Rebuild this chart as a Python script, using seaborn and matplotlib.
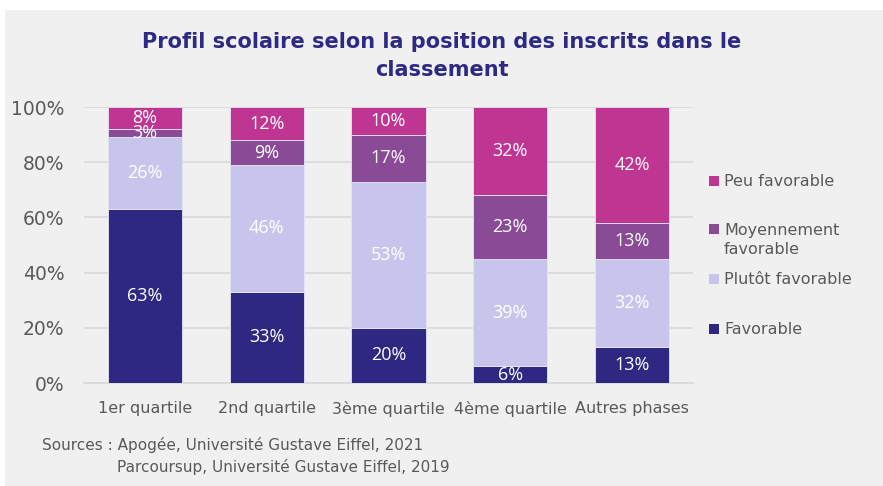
import numpy as np
import matplotlib
matplotlib.use('Agg')
import matplotlib.pyplot as plt
import seaborn as sns

# données (en %)
categories = ['1er quartile', '2nd quartile', '3ème quartile', '4ème quartile', 'Autres phases']
favorable = [63, 33, 20, 6, 13]
plutot_favorable = [26, 46, 53, 39, 32]
moyennement_favorable = [3, 9, 17, 23, 13]
peu_favorable = [8, 12, 10, 32, 42]

series = [
    ('Favorable', favorable, '#2e2882'),
    ('Plutôt favorable', plutot_favorable, '#c8c5ec'),
    ('Moyennement\nfavorable', moyennement_favorable, '#894a96'),
    ('Peu favorable', peu_favorable, '#bf3592'),
]

sns.set_theme(style='white')
plt.rcParams['font.family'] = ['DejaVu Sans']

bg = '#f0f0f0'
fig = plt.figure(figsize=(8.83, 4.86), dpi=100)
fig.patch.set_facecolor('white')
# fond gris du cadre
fig.patches.append(plt.Rectangle((5 / 883, 0), 1, 1 - 10 / 486, transform=fig.transFigure,
                                 facecolor=bg, edgecolor='none', zorder=-10))

ax = fig.add_axes([84 / 883, 1 - 383 / 486, (693 - 84) / 883, (383 - 107) / 486])
ax.set_facecolor(bg)

bottom = np.zeros(len(categories))
for name, vals, col in series:
    sns.barplot(x=categories, y=vals, bottom=bottom, color=col, width=0.61,
                ax=ax, saturation=1, zorder=3,
                edgecolor='#e6e4f4', linewidth=0.6)
    for i, v in enumerate(vals):
        ax.text(i, bottom[i] + v / 2, f'{v}%', ha='center', va='center',
                color='white', fontsize=13, family='Open Sans', zorder=4)
    bottom = bottom + np.array(vals)

if ax.get_legend() is not None:
    ax.get_legend().remove()

ax.set_ylim(0, 100)
ax.set_xlim(-0.5, 4.5)
ax.set_yticks(range(0, 101, 20))
ax.set_yticklabels([f'{t}%' for t in range(0, 101, 20)], fontsize=13.5, color='#595959')
ax.tick_params(axis='x', labelsize=11.5, labelcolor='#595959', length=0, pad=13)
ax.tick_params(axis='y', length=0, pad=14)
ax.yaxis.grid(True, color='#d9d9d9', linewidth=1.2, zorder=0)
ax.set_axisbelow(True)
for s in ['top', 'right', 'left']:
    ax.spines[s].set_visible(False)
ax.spines['bottom'].set_color('#d9d9d9')
ax.spines['bottom'].set_linewidth(1.2)
ax.set_xlabel('')
ax.set_ylabel('')

# légende placée à la main (comme dans Excel)
leg_y = {'Peu favorable': 181, 'Moyennement\nfavorable': 240,
         'Plutôt favorable': 279, 'Favorable': 329}
leg_sq = {'Peu favorable': 181, 'Moyennement\nfavorable': 229,
          'Plutôt favorable': 279, 'Favorable': 329}
for name, vals, col in series:
    fig.patches.append(plt.Rectangle((709 / 883, 1 - (leg_sq[name] + 5) / 486), 10 / 883, 10 / 486,
                                     transform=fig.transFigure, facecolor=col, edgecolor='none'))
    fig.text(724 / 883, 1 - leg_y[name] / 486, name, fontsize=11.5, color='#595959',
             va='center', ha='left', linespacing=1.35)

fig.text(0.5, 1 - 56 / 486, 'Profil scolaire selon la position des inscrits dans le\nclassement',
         ha='center', va='center', fontsize=15, fontweight='bold', color='#2e2a84',
         linespacing=1.45)

fig.text(42 / 883, 1 - 445 / 486, 'Sources : Apogée, Université Gustave Eiffel, 2021',
         fontsize=11, color='#595959', va='center')
fig.text(117 / 883, 1 - 467 / 486, 'Parcoursup, Université Gustave Eiffel, 2019',
         fontsize=11, color='#595959', va='center')

fig.savefig('out.png', dpi=100, facecolor=fig.get_facecolor())
